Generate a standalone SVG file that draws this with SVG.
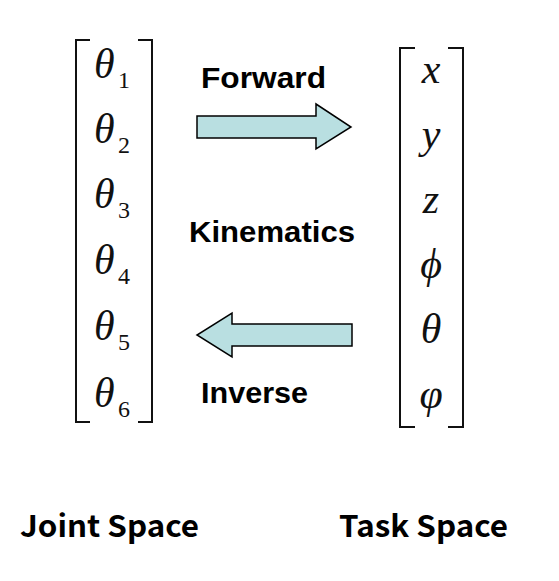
<svg xmlns="http://www.w3.org/2000/svg" width="559" height="581" viewBox="0 0 559 581">
<style>
.br{fill:none;stroke:#111;stroke-width:2}
.gk{font-family:"Liberation Serif","Times New Roman",serif;font-style:italic;font-size:42px;fill:#111}
.sb{font-family:"Liberation Serif","Times New Roman",serif;font-size:24px;fill:#111}
.lb{font-family:"Liberation Sans",Arial,sans-serif;font-weight:bold;font-size:30px;fill:#000}
.sp{font-family:"Noto Sans CJK KR","Noto Sans",sans-serif;font-weight:bold;font-size:30px;fill:#000}
.ar{fill:#b9dfe1;stroke:#000;stroke-width:1.5;stroke-linejoin:miter}
</style>
<rect width="559" height="581" fill="#fff"/>
<g id="joint-vector">
<path class="br" d="M90,40 H76 V422 H90"/>
<path class="br" d="M138,40 H152 V422 H138"/>
<text class="gk" x="94" y="78">θ</text><text class="sb" x="118" y="88">1</text>
<text class="gk" x="94" y="143">θ</text><text class="sb" x="118" y="153">2</text>
<text class="gk" x="94" y="208">θ</text><text class="sb" x="118" y="218">3</text>
<text class="gk" x="94" y="274">θ</text><text class="sb" x="118" y="284">4</text>
<text class="gk" x="94" y="340">θ</text><text class="sb" x="118" y="350">5</text>
<text class="gk" x="94" y="407">θ</text><text class="sb" x="118" y="417">6</text>
</g>
<g id="task-vector">
<path class="br" d="M415,48 H400 V427 H415"/>
<path class="br" d="M448,48 H463 V427 H448"/>
<text class="gk" x="431" y="83" text-anchor="middle">x</text>
<text class="gk" x="431" y="148" text-anchor="middle">y</text>
<text class="gk" x="431" y="213" text-anchor="middle">z</text>
<text class="gk" x="431" y="278" text-anchor="middle">ϕ</text>
<text class="gk" x="431" y="343" text-anchor="middle">θ</text>
<text class="gk" x="431" y="408" text-anchor="middle">φ</text>
</g>
<g id="connectors">
<path id="forward-arrow" class="ar" d="M197,116 H316 V104 L351,127 L316,149 V138 H197 Z"/>
<path id="inverse-arrow" class="ar" d="M352,324 H232 V313 L197,335 L232,357 V346 H352 Z"/>
</g>
<g id="labels">
<text class="lb" x="201" y="88" textLength="125" lengthAdjust="spacingAndGlyphs">Forward</text>
<text class="lb" x="189" y="242" textLength="166" lengthAdjust="spacingAndGlyphs">Kinematics</text>
<text class="lb" x="201" y="403" textLength="107" lengthAdjust="spacingAndGlyphs">Inverse</text>
</g>
<g id="space-labels">
<text class="sp" x="20" y="537" textLength="179" lengthAdjust="spacingAndGlyphs">Joint Space</text>
<text class="sp" x="339" y="537" textLength="169" lengthAdjust="spacingAndGlyphs">Task Space</text>
</g>
</svg>
